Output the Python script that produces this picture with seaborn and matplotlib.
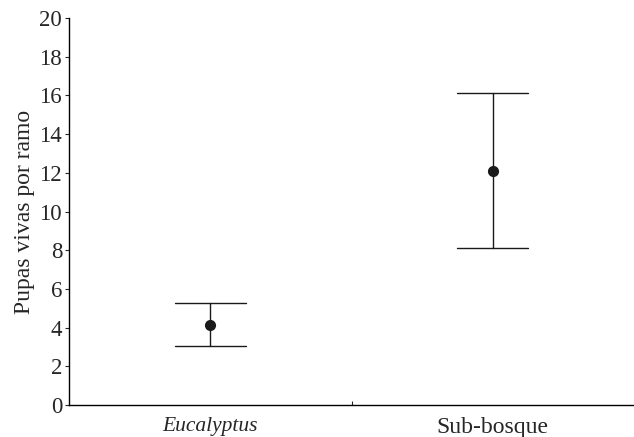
import numpy as np
import pandas as pd
import matplotlib
matplotlib.use("Agg")
import matplotlib.pyplot as plt
import seaborn as sns

categories = ["Eucalyptus", "Sub-bosque"]
means = [4.15, 12.1]
lower = [3.05, 8.1]
upper = [5.25, 16.1]
yticks = list(range(0, 21, 2))

sns.set_theme(style="ticks")
plt.rcParams["font.family"] = ["Liberation Serif", "DejaVu Serif"]

rows = []
for c, lo, m, hi in zip(categories, lower, means, upper):
    for v in (lo, m, hi):
        rows.append({"grupo": c, "valor": v})
df = pd.DataFrame(rows)

fig = plt.figure(figsize=(6.34, 4.37), dpi=100)
ax = fig.add_axes([0.109, 0.073, 0.891, 0.886])

sns.pointplot(data=df, x="grupo", y="valor", order=categories,
              estimator=np.median, errorbar=lambda v: (v.min(), v.max()),
              capsize=0.25, linestyle="none", color="#1a1a1a",
              markersize=6, err_kws={"linewidth": 1.0, "color": "#1a1a1a"},
              ax=ax)

ax.set_xlim(-0.5, 1.5)
ax.set_ylim(0, 20)
ax.set_yticks(yticks)
ax.set_yticklabels([str(t) for t in yticks], fontsize=16.5)
ax.set_ylabel("Pupas vivas por ramo", fontsize=17, labelpad=3)
ax.set_xlabel("")

ax.set_xticks([0.5])
ax.set_xticklabels([""])
ax.tick_params(axis="x", direction="in", length=3, width=0.8)
ax.tick_params(axis="y", direction="out", length=3, width=0.8, pad=2)
for i, c in enumerate(categories):
    ax.text(i, -0.03, c, transform=ax.get_xaxis_transform(), ha="center", va="top",
            fontsize=15.5 if i == 0 else 17, style="italic" if i == 0 else "normal")

for s in ["top", "right"]:
    ax.spines[s].set_visible(False)
for s in ["left", "bottom"]:
    ax.spines[s].set_linewidth(1.0)
    ax.spines[s].set_color("black")

fig.savefig("out.png", dpi=100)
